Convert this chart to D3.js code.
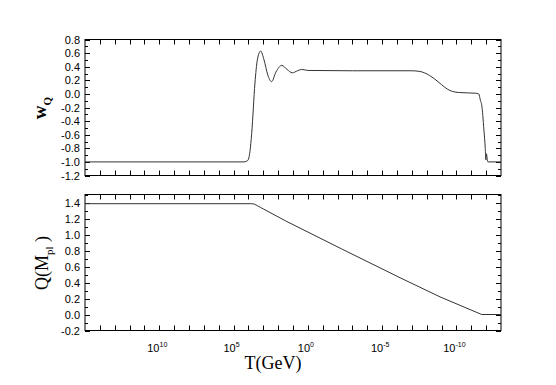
<!DOCTYPE html>
<html>
<head>
<meta charset="utf-8">
<script src="https://cdn.jsdelivr.net/npm/d3@7"></script>
<style>
  body { margin: 0; background: #fff; }
  svg { display: block; }
  .tick-label { font-family: "Liberation Sans", Arial, sans-serif; font-size: 11px; fill: #000; }
  .title { font-family: "Liberation Serif", "Times New Roman", serif; fill: #000; }
</style>
</head>
<body>
<div id="chart"></div>
<script>
// log10(T/GeV) of the points
var wExp = [15, 4.3, 4.05, 3.9, 3.78, 3.56, 3.4, 3.18, 2.95, 2.7, 2.44, 2.15, 1.76, 1.4, 1.05, 0.7, 0.42, 0,
            -3, -7, -7.54, -8.2, -8.76, -9.2, -9.56, -10.2, -11.3, -11.5, -11.62, -11.7, -11.85, -11.94,
            -11.98, -12.02, -12.07, -12.12, -13];
var wVal = [-1.0, -1.0, -0.98, -0.85, -0.58, 0.16, 0.5, 0.63, 0.5, 0.28, 0.18, 0.32, 0.42, 0.36, 0.31, 0.34, 0.36, 0.345,
            0.34, 0.34, 0.33, 0.27, 0.18, 0.10, 0.05, 0.02, 0.01, 0.0, -0.1, -0.16, -0.53, -0.8,
            -0.97, -0.88, -0.96, -1.0, -1.0];

var qExp = [15, 3.8, 3.6, 3.4, 3.2, 3.0, 1.5, -2.27, -6.2, -8.9, -11.7, -13];
var qVal = [1.385, 1.385, 1.38, 1.36, 1.34, 1.32, 1.17, 0.82, 0.46, 0.22, 0.0, 0.0];

var xTickExp = [10, 5, 0, -5, -10];
var wTicks = [-1.2, -1.0, -0.8, -0.6, -0.4, -0.2, 0.0, 0.2, 0.4, 0.6, 0.8];
var qTicks = [-0.2, 0.0, 0.2, 0.4, 0.6, 0.8, 1.0, 1.2, 1.4];

var width = 556, height = 385;
var left = 85, right = 501;

var svg = d3.select("#chart").append("svg")
    .attr("width", width)
    .attr("height", height);

var x = d3.scaleLog()
    .domain([1e15, 1e-13])
    .range([left, right]);

var decades = d3.range(14, -13, -1);

function panel(top, bottom, domain, ticks, exps, vals, curve) {
  var y = d3.scaleLinear().domain(domain).range([bottom, top]);
  var g = svg.append("g");

  // frame
  g.append("rect")
      .attr("x", left).attr("y", top)
      .attr("width", right - left).attr("height", bottom - top)
      .attr("fill", "none").attr("stroke", "#000").attr("stroke-width", 1);

  // x ticks, inward on bottom and top
  decades.forEach(function(e) {
    var px = Math.round(x(Math.pow(10, e))) + 0.5;
    g.append("line").attr("x1", px).attr("x2", px).attr("y1", bottom).attr("y2", bottom - 5).attr("stroke", "#000");
    g.append("line").attr("x1", px).attr("x2", px).attr("y1", top).attr("y2", top + 5).attr("stroke", "#000");
  });

  // y ticks: major at labels, minor halfway
  var minor = d3.range(Math.round(domain[0] * 10), Math.round(domain[1] * 10) + 1).map(function(d) { return d / 10; });
  minor.forEach(function(v) {
    var major = ticks.some(function(t) { return Math.abs(t - v) < 1e-6; });
    var len = major ? 5 : 3;
    var py = Math.round(y(v)) + 0.5;
    g.append("line").attr("x1", left).attr("x2", left + len).attr("y1", py).attr("y2", py).attr("stroke", "#000");
    g.append("line").attr("x1", right).attr("x2", right - len).attr("y1", py).attr("y2", py).attr("stroke", "#000");
  });

  g.selectAll(".ylab").data(ticks).enter().append("text")
      .attr("class", "tick-label")
      .attr("x", left - 5)
      .attr("y", function(d) { return y(d) + 4; })
      .attr("text-anchor", "end")
      .text(function(d) { return d.toFixed(1); });

  var line = d3.line()
      .x(function(d, i) { return x(Math.pow(10, exps[i])); })
      .y(function(d) { return y(d); })
      .curve(curve);

  g.append("path")
      .datum(vals)
      .attr("d", line)
      .attr("fill", "none")
      .attr("stroke", "#333")
      .attr("stroke-width", 1);

  return y;
}

panel(39.5, 175.5, [-1.2, 0.8], wTicks, wExp, wVal, d3.curveMonotoneX);
panel(194.5, 330.5, [-0.2, 1.5], qTicks, qExp, qVal, d3.curveLinear);

// x tick labels
xTickExp.forEach(function(e) {
  var t = svg.append("text")
      .attr("class", "tick-label")
      .attr("x", x(Math.pow(10, e)) - 2)
      .attr("y", 352)
      .attr("text-anchor", "middle");
  t.append("tspan").text("10");
  t.append("tspan").attr("dy", -5).style("font-size", "7px").text(e);
});

// axis titles
svg.append("text")
    .attr("class", "title")
    .attr("x", 273).attr("y", 369)
    .attr("text-anchor", "middle")
    .style("font-size", "18px")
    .text("T(GeV)");

var wt = svg.append("text")
    .attr("class", "title")
    .attr("transform", "translate(46,108) rotate(-90)")
    .attr("text-anchor", "middle")
    .style("font-size", "19px")
    .style("font-weight", "bold");
wt.append("tspan").text("w");
wt.append("tspan").attr("dy", 5).style("font-size", "11px").text("Q");

var qt = svg.append("text")
    .attr("class", "title")
    .attr("transform", "translate(48,263) rotate(-90)")
    .attr("text-anchor", "middle")
    .style("font-size", "18px");
qt.append("tspan").text("Q(M");
qt.append("tspan").attr("dy", 5).style("font-size", "11px").text("pl");
qt.append("tspan").attr("dy", -5).text(" )");
</script>
</body>
</html>
